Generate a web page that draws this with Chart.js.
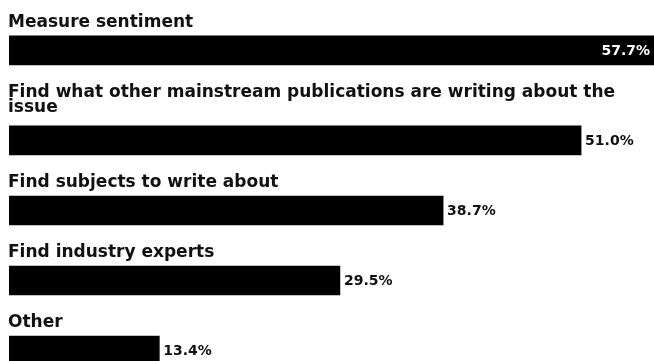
<!DOCTYPE html>
<html>
<head>
<meta charset="utf-8">
<title>How journalists use social media monitoring</title>
<script src="https://cdn.jsdelivr.net/npm/chart.js@4.4.0/dist/chart.umd.min.js"></script>
<style>
    body { margin: 0; background: #ffffff; }
    #wrap { width: 654px; height: 361px; }
</style>
</head>
<body>
<div id="wrap">
    <canvas id="usageChart" width="654" height="361"></canvas>
</div>
<script>
// Categories (one array per label line)
const categories = [
    ["Measure sentiment"],
    ["Find what other mainstream publications are writing about the", "issue"],
    ["Find subjects to write about"],
    ["Find industry experts"],
    ["Other"]
];

// Share of respondents, in percent
const shares = [57.7, 51.0, 38.7, 29.5, 13.4];

// Value labels shown next to the bars
const valueLabels = shares.map(v => v.toFixed(1) + '%');

// Row height is one unit, a second label line pushes the row down a bit
const extraLine = 20 / 70;
let acc = 0;
const rowPos = categories.map((lines, i) => {
    if (i > 0) acc += 1 + (lines.length - 1) * extraLine;
    return acc;
});

const labelFont = 'bold 17px "DejaVu Sans"';
const valueFont = 'bold 14px "DejaVu Sans"';

// Plugin to draw the category text above each bar
const categoryLabels = {
    id: 'categoryLabels',
    afterDatasetsDraw(chart) {
        const ctx = chart.ctx;
        const meta = chart.getDatasetMeta(0);
        ctx.save();
        ctx.font = labelFont;
        ctx.fillStyle = '#111111';
        ctx.textAlign = 'left';
        ctx.textBaseline = 'alphabetic';
        meta.data.forEach((bar, i) => {
            const lines = categories[i];
            const top = bar.y - bar.height / 2;
            const firstBaseline = top - 9 - (lines.length - 1) * 20;
            lines.forEach((line, k) => {
                ctx.fillText(line, 8, firstBaseline + k * 15);
            });
        });
        ctx.restore();
    }
};

// Plugin to draw the percentages (white inside the bar if it does not fit outside)
const valueLabelsPlugin = {
    id: 'valueLabels',
    afterDatasetsDraw(chart) {
        const ctx = chart.ctx;
        const area = chart.chartArea;
        const meta = chart.getDatasetMeta(0);
        ctx.save();
        ctx.font = valueFont;
        ctx.textBaseline = 'middle';
        meta.data.forEach((bar, i) => {
            const text = valueLabels[i];
            const w = ctx.measureText(text).width;
            if (bar.x + 4 + w > area.right) {
                ctx.fillStyle = '#ffffff';
                ctx.textAlign = 'right';
                ctx.fillText(text, Math.min(bar.x, area.right) - 4, bar.y + 1);
            } else {
                ctx.fillStyle = '#111111';
                ctx.textAlign = 'left';
                ctx.fillText(text, bar.x + 4, bar.y + 1);
            }
        });
        ctx.restore();
    }
};

const ctx = document.getElementById('usageChart').getContext('2d');
const myChart = new Chart(ctx, {
    type: 'bar',
    data: {
        datasets: [{
            data: shares.map((v, i) => ({ x: v, y: rowPos[i] })),
            backgroundColor: '#000000',
            borderWidth: 0,
            barThickness: 29
        }]
    },
    options: {
        indexAxis: 'y',
        responsive: false,
        animation: false,
        layout: { padding: { left: 9, right: 0, top: 0, bottom: 0 } },
        scales: {
            x: { type: 'linear', min: 0, max: 57.5, display: false },
            y: {
                type: 'linear',
                reverse: true,
                offset: false,
                min: -0.72,
                max: rowPos[rowPos.length - 1] + 0.15,
                display: false
            }
        },
        plugins: {
            legend: { display: false },
            tooltip: { enabled: false }
        }
    },
    plugins: [categoryLabels, valueLabelsPlugin]
});
</script>
</body>
</html>
